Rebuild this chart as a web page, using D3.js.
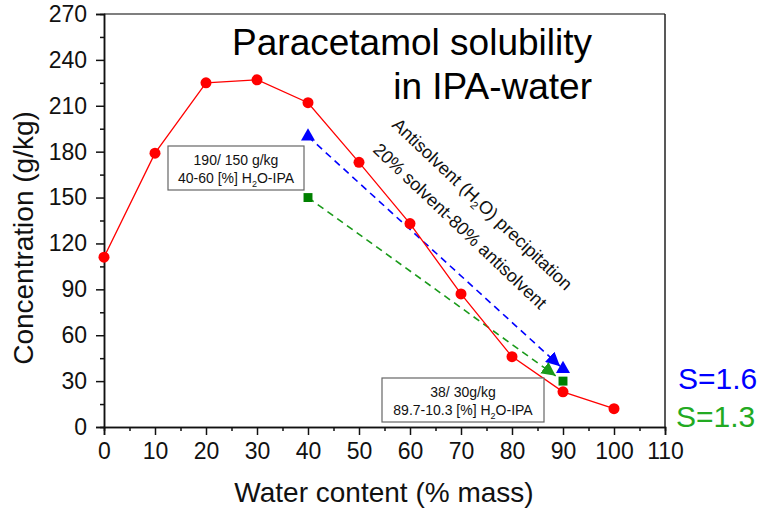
<!DOCTYPE html>
<html>
<head>
<meta charset="utf-8">
<script src="https://cdn.jsdelivr.net/npm/d3@7"></script>
<style>
  html, body { margin: 0; padding: 0; background: #fff; }
  svg { display: block; }
  svg text { font-family: "Liberation Sans", Arial, sans-serif; }
</style>
</head>
<body>
<svg id="chart" width="763" height="512"></svg>
<script>
// Paracetamol solubility in IPA-water mixtures
const waterContent = [0, 10, 20, 30, 40, 50, 60, 70, 80, 90, 100];
const solubility   = [111, 179, 225, 227, 212, 173, 133, 87, 46, 23, 12];

// Antisolvent precipitation paths (start -> end)
const blueWater = [40, 90];
const blueConc  = [190, 38];
const greenWater = [40, 90];
const greenConc  = [150, 30];

const xTicks = [0, 10, 20, 30, 40, 50, 60, 70, 80, 90, 100, 110];
const yTicks = [0, 30, 60, 90, 120, 150, 180, 210, 240, 270];

const svg = d3.select("#chart");
const margin = { left: 104, right: 98, top: 14, bottom: 85 };
const W = 763, H = 512;

const x = d3.scaleLinear().domain([0, 110]).range([margin.left, W - margin.right]);
const y = d3.scaleLinear().domain([0, 270]).range([H - margin.bottom, margin.top]);

const RED = "#ff0000", BLUE = "#0000ff", GREEN = "#008000", DGREEN = "#1a9a1a";

// Arrow heads for the dashed paths
const defs = svg.append("defs");
[["arrBlue", BLUE], ["arrGreen", DGREEN]].forEach(([id, c]) => {
  defs.append("marker")
    .attr("id", id).attr("viewBox", "0 0 10 10")
    .attr("refX", 10).attr("refY", 5)
    .attr("markerWidth", 14).attr("markerHeight", 14)
    .attr("markerUnits", "userSpaceOnUse")
    .attr("orient", "auto")
    .append("path").attr("d", "M0,0 L10,5 L0,10 Z").attr("fill", c);
});

// Frame (top and right)
svg.append("line").attr("x1", x(0)).attr("x2", x(110)).attr("y1", y(270)).attr("y2", y(270))
  .attr("stroke", "#555").attr("stroke-width", 1.5);
svg.append("line").attr("x1", x(110)).attr("x2", x(110)).attr("y1", y(270)).attr("y2", y(0))
  .attr("stroke", "#222").attr("stroke-width", 1.5);

// Axes
const xAxis = svg.append("g").attr("transform", `translate(0,${y(0)})`)
  .call(d3.axisBottom(x).tickValues(xTicks).tickSize(8).tickPadding(8).tickFormat(d3.format("d")));
const xMinor = svg.append("g").attr("transform", `translate(0,${y(0)})`)
  .call(d3.axisBottom(x).tickValues(d3.range(5, 110, 10)).tickSize(4).tickFormat(""));
const yAxis = svg.append("g").attr("transform", `translate(${x(0)},0)`)
  .call(d3.axisLeft(y).tickValues(yTicks).tickSize(8).tickPadding(9).tickFormat(d3.format("d")));
const yMinor = svg.append("g").attr("transform", `translate(${x(0)},0)`)
  .call(d3.axisLeft(y).tickValues(d3.range(15, 270, 30)).tickSize(4).tickFormat(""));

[xAxis, xMinor, yAxis, yMinor].forEach(g => {
  g.select(".domain").attr("stroke", "#111").attr("stroke-width", 1.5);
  g.selectAll(".tick line").attr("stroke", "#111").attr("stroke-width", 1.5);
  g.selectAll(".tick text").attr("font-size", 23).attr("fill", "#111")
    .attr("font-family", "'Liberation Sans', Arial, sans-serif");
});

// Axis titles
svg.append("text").attr("x", 384).attr("y", 502).attr("text-anchor", "middle")
  .attr("font-size", 28).attr("fill", "#111").text("Water content (% mass)");
svg.append("text").attr("transform", "translate(33,238) rotate(-90)")
  .attr("text-anchor", "middle").attr("font-size", 28).attr("fill", "#111")
  .text("Concentration (g/kg)");

// Chart title
svg.append("text").attr("x", 592).attr("y", 55).attr("text-anchor", "end")
  .attr("font-size", 37).attr("fill", "#000").text("Paracetamol solubility");
svg.append("text").attr("x", 592).attr("y", 99).attr("text-anchor", "end")
  .attr("font-size", 37).attr("fill", "#000").text("in IPA-water");

// Dashed precipitation paths (stop a little short of the end markers)
function path(xs, ys, color, marker, gap) {
  const x1 = x(xs[0]), y1 = y(ys[0]), x2 = x(xs[1]), y2 = y(ys[1]);
  const len = Math.hypot(x2 - x1, y2 - y1);
  const ux = (x2 - x1) / len, uy = (y2 - y1) / len;
  svg.append("line")
    .attr("x1", x1).attr("y1", y1)
    .attr("x2", x2 - ux * gap).attr("y2", y2 - uy * gap)
    .attr("stroke", color).attr("stroke-width", 1.6)
    .attr("stroke-dasharray", "7,5")
    .attr("marker-end", `url(#${marker})`);
}
path(blueWater, blueConc, BLUE, "arrBlue", 4);
path(greenWater, greenConc, DGREEN, "arrGreen", 9);

// Solubility curve
const line = d3.line().x((d, i) => x(waterContent[i])).y(d => y(d));
svg.append("path").datum(solubility).attr("d", line)
  .attr("fill", "none").attr("stroke", RED).attr("stroke-width", 1.3);
svg.selectAll("circle.sol").data(solubility).join("circle").attr("class", "sol")
  .attr("cx", (d, i) => x(waterContent[i])).attr("cy", d => y(d)).attr("r", 5.5)
  .attr("fill", RED);

// Start / end markers
const tri = d3.symbol().type(d3.symbolTriangle).size(85);
const sq = d3.symbol().type(d3.symbolSquare).size(80);
blueConc.forEach((c, i) => {
  svg.append("path").attr("d", tri).attr("fill", BLUE)
    .attr("transform", `translate(${x(blueWater[i])},${y(c)})`);
});
greenConc.forEach((c, i) => {
  svg.append("path").attr("d", sq).attr("fill", GREEN)
    .attr("transform", `translate(${x(greenWater[i])},${y(c)})`);
});

// Annotation boxes
function box(x0, y0, w, h, line1, line2pre, line2post) {
  svg.append("rect").attr("x", x0).attr("y", y0).attr("width", w).attr("height", h)
    .attr("fill", "#fff").attr("stroke", "#666").attr("stroke-width", 1.2);
  const cx = x0 + w / 2;
  svg.append("text").attr("x", cx).attr("y", y0 + 19).attr("text-anchor", "middle")
    .attr("font-size", 14).attr("fill", "#111").text(line1);
  const t = svg.append("text").attr("x", cx).attr("y", y0 + 37).attr("text-anchor", "middle")
    .attr("font-size", 14).attr("fill", "#111");
  t.append("tspan").text(line2pre + "H");
  t.append("tspan").attr("dy", 4).attr("font-size", 9).text("2");
  t.append("tspan").attr("dy", -4).text(line2post);
}
box(168, 146, 136, 44, "190/ 150 g/kg", "40-60 [%] ", "O-IPA");
box(382, 378, 162, 44, "38/ 30g/kg", "89.7-10.3 [%] ", "O-IPA");

// Rotated process notes
const note1 = svg.append("text").attr("transform", "translate(391,126) rotate(43.5)")
  .attr("font-size", 18).attr("fill", "#111");
note1.append("tspan").text("Antisolvent (H");
note1.append("tspan").attr("dy", 4).attr("font-size", 11).text("2");
note1.append("tspan").attr("dy", -4).text("O) precipitation");
svg.append("text").attr("transform", "translate(372,151) rotate(43.5)")
  .attr("font-size", 18).attr("fill", "#111").text("20% solvent-80% antisolvent");

// Supersaturation labels
svg.append("text").attr("x", 678).attr("y", 389).attr("font-size", 30).attr("fill", BLUE).text("S=1.6");
svg.append("text").attr("x", 676).attr("y", 427).attr("font-size", 30).attr("fill", "#22aa22").text("S=1.3");
</script>
</body>
</html>
